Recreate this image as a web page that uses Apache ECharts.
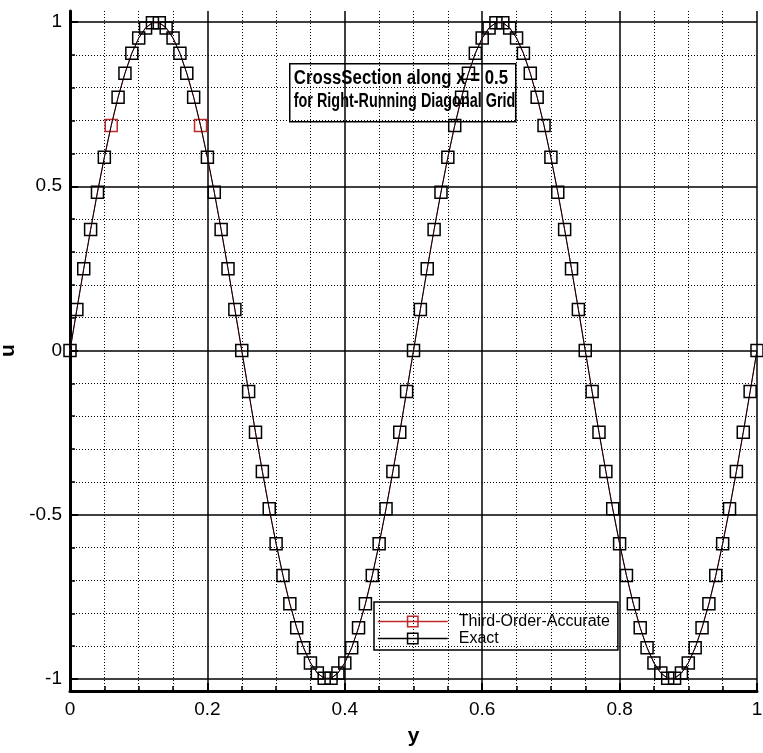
<!DOCTYPE html>
<html>
<head>
<meta charset="utf-8">
<title>CrossSection along x = 0.5</title>
<script src="https://cdn.jsdelivr.net/npm/echarts@6/dist/echarts.min.js"></script>
<style>
  html, body { margin: 0; padding: 0; background: #fff; }
  #chart { width: 763px; height: 753px; }
</style>
</head>
<body>
<div id="chart"></div>
<script>
// Sample positions along the cross-section (y) and the solution u at each one
const yPos = [
  0.00, 0.01, 0.02, 0.03, 0.04, 0.05, 0.06, 0.07, 0.08, 0.09,
  0.10, 0.11, 0.12, 0.13, 0.14, 0.15, 0.16, 0.17, 0.18, 0.19,
  0.20, 0.21, 0.22, 0.23, 0.24, 0.25, 0.26, 0.27, 0.28, 0.29,
  0.30, 0.31, 0.32, 0.33, 0.34, 0.35, 0.36, 0.37, 0.38, 0.39,
  0.40, 0.41, 0.42, 0.43, 0.44, 0.45, 0.46, 0.47, 0.48, 0.49,
  0.50, 0.51, 0.52, 0.53, 0.54, 0.55, 0.56, 0.57, 0.58, 0.59,
  0.60, 0.61, 0.62, 0.63, 0.64, 0.65, 0.66, 0.67, 0.68, 0.69,
  0.70, 0.71, 0.72, 0.73, 0.74, 0.75, 0.76, 0.77, 0.78, 0.79,
  0.80, 0.81, 0.82, 0.83, 0.84, 0.85, 0.86, 0.87, 0.88, 0.89,
  0.90, 0.91, 0.92, 0.93, 0.94, 0.95, 0.96, 0.97, 0.98, 0.99,
  1.00
];

const exactU = [
  0.000, 0.125, 0.249, 0.368, 0.482, 0.588, 0.685, 0.771, 0.844, 0.905,
  0.951, 0.982, 0.998, 0.998, 0.982, 0.951, 0.905, 0.844, 0.771, 0.685,
  0.588, 0.482, 0.368, 0.249, 0.125, 0.000, -0.125, -0.249, -0.368, -0.482,
  -0.588, -0.685, -0.771, -0.844, -0.905, -0.951, -0.982, -0.998, -0.998, -0.982,
  -0.951, -0.905, -0.844, -0.771, -0.685, -0.588, -0.482, -0.368, -0.249, -0.125,
  0.000, 0.125, 0.249, 0.368, 0.482, 0.588, 0.685, 0.771, 0.844, 0.905,
  0.951, 0.982, 0.998, 0.998, 0.982, 0.951, 0.905, 0.844, 0.771, 0.685,
  0.588, 0.482, 0.368, 0.249, 0.125, 0.000, -0.125, -0.249, -0.368, -0.482,
  -0.588, -0.685, -0.771, -0.844, -0.905, -0.951, -0.982, -0.998, -0.998, -0.982,
  -0.951, -0.905, -0.844, -0.771, -0.685, -0.588, -0.482, -0.368, -0.249, -0.125,
  0.000
];

const thirdOrderU = [
  0.000, 0.125, 0.249, 0.368, 0.482, 0.588, 0.685, 0.771, 0.844, 0.905,
  0.951, 0.982, 0.998, 0.998, 0.982, 0.951, 0.905, 0.844, 0.771, 0.685,
  0.588, 0.482, 0.368, 0.249, 0.125, 0.000, -0.125, -0.249, -0.368, -0.482,
  -0.588, -0.685, -0.771, -0.844, -0.905, -0.951, -0.982, -0.998, -0.998, -0.982,
  -0.951, -0.905, -0.844, -0.771, -0.685, -0.588, -0.482, -0.368, -0.249, -0.125,
  0.000, 0.125, 0.249, 0.368, 0.482, 0.588, 0.685, 0.771, 0.844, 0.905,
  0.951, 0.982, 0.998, 0.998, 0.982, 0.951, 0.905, 0.844, 0.771, 0.685,
  0.588, 0.482, 0.368, 0.249, 0.125, 0.000, -0.125, -0.249, -0.368, -0.482,
  -0.588, -0.685, -0.771, -0.844, -0.905, -0.951, -0.982, -0.998, -0.998, -0.982,
  -0.951, -0.905, -0.844, -0.771, -0.685, -0.588, -0.482, -0.368, -0.249, -0.125,
  0.000
];

// Points where the third-order markers sit on top of the exact ones
const thirdOrderMarked = [6, 19];

const seriesNames = ['Third-Order-Accurate', 'Exact'];
const titleLines = ['CrossSection along x = 0.5', 'for Right-Running Diagonal Grid'];

const RED = '#c02a2a';
const BLACK = '#000';
const tickFont = 'Liberation Sans, Arial, sans-serif';
const titleFont = 'bold 20px "Liberation Sans", Arial, sans-serif';

const pairs = (xs, ys) => xs.map((x, i) => [x, ys[i]]);

const chart = echarts.init(document.getElementById('chart'), null, { renderer: 'canvas' });

const dotted = { color: BLACK, width: 1, type: [1, 2] };

chart.setOption({
  animation: false,
  backgroundColor: '#fff',
  grid: [
    // outer frame: carries the x axis and the full-height vertical grid
    { left: 70, right: 6, top: 11, bottom: 62, containLabel: false, outerBoundsMode: 'none' },
    // inner frame: u from -1 to 1, carries the data
    { left: 70, right: 6, top: 22, bottom: 74, containLabel: false, outerBoundsMode: 'none' }
  ],
  xAxis: [
    {
      gridIndex: 0, type: 'value', min: 0, max: 1, interval: 0.2,
      name: 'y', nameLocation: 'middle', nameGap: 35,
      nameTextStyle: { fontFamily: tickFont, fontWeight: 'bold', fontSize: 21, color: BLACK },
      axisLine: { onZero: false, lineStyle: { color: BLACK, width: 3 } },
      axisTick: { inside: true, length: 8, lineStyle: { color: BLACK, width: 2 } },
      minorTick: { show: true, splitNumber: 4, length: 5, lineStyle: { color: BLACK, width: 1.5 } },
      axisLabel: { fontFamily: tickFont, fontSize: 19, color: BLACK, margin: 9 },
      splitLine: { show: true, lineStyle: { color: BLACK, width: 1.5 } },
      minorSplitLine: { show: true, lineStyle: dotted }
    },
    {
      gridIndex: 1, type: 'value', min: 0, max: 1, show: false,
      axisLine: { onZero: false }
    }
  ],
  yAxis: [
    {
      gridIndex: 0, type: 'value', min: -1.035, max: 1.035,
      axisLine: { show: true, onZero: false, lineStyle: { color: BLACK, width: 3 } },
      axisTick: { show: false }, axisLabel: { show: false },
      splitLine: { show: false }
    },
    {
      gridIndex: 1, type: 'value', min: -1, max: 1, interval: 0.5,
      name: 'u', nameLocation: 'middle', nameRotate: 90, nameGap: 46,
      nameTextStyle: { fontFamily: tickFont, fontWeight: 'bold', fontSize: 21, color: BLACK },
      axisLine: { show: false, onZero: false },
      axisTick: { show: true, inside: true, length: 8, lineStyle: { color: BLACK, width: 2 } },
      minorTick: { show: true, splitNumber: 5, length: 5, lineStyle: { color: BLACK, width: 1.5 } },
      axisLabel: { fontFamily: tickFont, fontSize: 19, color: BLACK, margin: 8 },
      splitLine: { show: true, lineStyle: { color: BLACK, width: 1.5 } },
      minorSplitLine: { show: true, lineStyle: dotted }
    }
  ],
  legend: {
    orient: 'vertical',
    left: 374, top: 602,
    padding: [11, 8, 3, 3],
    itemWidth: 70, itemHeight: 13, itemGap: 0,
    borderColor: BLACK, borderWidth: 1.5,
    backgroundColor: 'transparent',
    textStyle: { fontFamily: tickFont, fontSize: 16, lineHeight: 17, color: BLACK, padding: [0, 0, 0, 6] },
    data: [
      { name: seriesNames[0], itemStyle: { color: 'transparent', borderColor: RED, borderWidth: 1.5 }, lineStyle: { color: RED, width: 1.5 } },
      { name: seriesNames[1], itemStyle: { color: 'transparent', borderColor: BLACK, borderWidth: 1.5 }, lineStyle: { color: BLACK, width: 1.5 } }
    ]
  },
  series: [
    {
      name: seriesNames[0], type: 'line',
      xAxisIndex: 1, yAxisIndex: 1,
      data: pairs(yPos, thirdOrderU),
      symbol: 'rect', showAllSymbol: true,
      symbolSize: (v, p) => thirdOrderMarked.includes(p.dataIndex) ? 12 : 0,
      lineStyle: { color: RED, width: 1 },
      itemStyle: { color: 'transparent', borderColor: RED, borderWidth: 1.5 },
      z: 2
    },
    {
      name: seriesNames[1], type: 'line',
      xAxisIndex: 1, yAxisIndex: 1,
      data: pairs(yPos, exactU),
      symbol: 'rect', showAllSymbol: true,
      symbolSize: (v, p) => thirdOrderMarked.includes(p.dataIndex) ? 0 : 12,
      lineStyle: { color: BLACK, width: 1 },
      itemStyle: { color: 'transparent', borderColor: BLACK, borderWidth: 1.5 },
      z: 3
    }
  ],
  graphic: [
    {
      type: 'group', left: 289, top: 63, z: 100,
      children: [
        { type: 'rect', shape: { x: 0, y: 0, width: 226, height: 58 },
          style: { fill: '#fff', stroke: BLACK, lineWidth: 1.5 } },
        // the box is narrow, so each line is squeezed horizontally to fit it
        { type: 'text', x: 4, y: 5, scaleX: 0.84,
          style: { text: titleLines[0], font: titleFont, fill: BLACK } },
        { type: 'text', x: 4, y: 28, scaleX: 0.72,
          style: { text: titleLines[1], font: titleFont, fill: BLACK } }
      ]
    }
  ]
});
</script>
</body>
</html>
